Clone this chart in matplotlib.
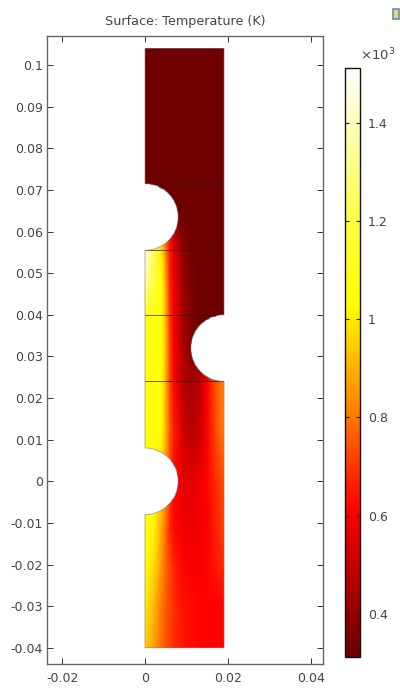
import numpy as np
import matplotlib
matplotlib.use('Agg')
import matplotlib.pyplot as plt
from matplotlib.colors import LinearSegmentedColormap, Normalize
from matplotlib.cm import ScalarMappable
from matplotlib.path import Path
from matplotlib.patches import PathPatch, Rectangle

# temperature, in 10^3 K (rows = y, columns = x)
x_pos = [0, 0.002, 0.004, 0.005, 0.006, 0.007, 0.009, 0.011, 0.013, 0.015, 0.017, 0.0191]
y_pos = [-0.04, -0.03, -0.02, -0.012, 0, 0.012, 0.024, 0.032, 0.04, 0.048, 0.0555, 0.058, 0.0635, 0.104]
temps = [
    [0.95, 0.87, 0.78, 0.74, 0.71, 0.68, 0.65, 0.63, 0.62, 0.61, 0.61, 0.61],
    [1.00, 0.92, 0.80, 0.76, 0.72, 0.69, 0.64, 0.63, 0.62, 0.61, 0.61, 0.61],
    [1.03, 0.98, 0.85, 0.78, 0.72, 0.67, 0.62, 0.60, 0.60, 0.62, 0.65, 0.68],
    [1.05, 1.02, 0.88, 0.78, 0.68, 0.63, 0.59, 0.58, 0.59, 0.61, 0.66, 0.71],
    [1.05, 1.05, 0.95, 0.85, 0.70, 0.62, 0.57, 0.56, 0.58, 0.62, 0.68, 0.74],
    [1.05, 1.05, 1.03, 0.90, 0.76, 0.66, 0.54, 0.47, 0.50, 0.60, 0.72, 0.82],
    [1.05, 1.06, 1.05, 0.90, 0.72, 0.62, 0.49, 0.43, 0.47, 0.60, 0.74, 0.84],
    [1.07, 1.07, 1.05, 0.92, 0.72, 0.60, 0.46, 0.38, 0.34, 0.34, 0.36, 0.40],
    [1.10, 1.08, 1.05, 0.90, 0.70, 0.60, 0.45, 0.36, 0.33, 0.33, 0.33, 0.33],
    [1.35, 1.20, 1.05, 0.88, 0.67, 0.58, 0.43, 0.35, 0.33, 0.33, 0.33, 0.33],
    [1.50, 1.25, 1.00, 0.82, 0.64, 0.55, 0.40, 0.34, 0.33, 0.33, 0.33, 0.33],
    [0.90, 0.90, 0.85, 0.78, 0.64, 0.52, 0.38, 0.33, 0.33, 0.33, 0.33, 0.33],
    [0.33, 0.33, 0.33, 0.33, 0.33, 0.33, 0.33, 0.33, 0.33, 0.33, 0.33, 0.33],
    [0.33, 0.33, 0.33, 0.33, 0.33, 0.33, 0.33, 0.33, 0.33, 0.33, 0.33, 0.33],
]
mesh_lines = [0.024, 0.04, 0.0555, 0.0715]
x_ticks = [-0.02, 0, 0.02, 0.04]
x_labels = ['-0.02', '0', '0.02', '0.04']
y_ticks = [-0.04, -0.03, -0.02, -0.01, 0, 0.01, 0.02, 0.03, 0.04, 0.05, 0.06, 0.07, 0.08, 0.09, 0.1]
y_labels = ['-0.04', '-0.03', '-0.02', '-0.01', '0', '0.01', '0.02', '0.03', '0.04',
            '0.05', '0.06', '0.07', '0.08', '0.09', '0.1']
cbar_ticks = [0.4, 0.6, 0.8, 1.0, 1.2, 1.4]
cbar_labels = ['0.4', '0.6', '0.8', '1', '1.2', '1.4']
t_min, t_max = 0.312, 1.512
# outline of the part: width, height, notch radius and notch centres
width, y_low, y_high = 0.0191, -0.04, 0.104
radius = 0.008
left_holes = [0, 0.0635]
right_hole = 0.032

text_col = '#444444'
plt.rcParams['font.family'] = 'DejaVu Sans'
plt.rcParams['font.size'] = 9

cmap = LinearSegmentedColormap.from_list('thermal', [
    (0.0, '#680000'), (0.25, '#ff0000'), (0.42, '#ff8000'),
    (0.60, '#ffff00'), (0.74, '#ffff40'), (1.0, '#ffffff')])
norm = Normalize(t_min, t_max)


def arc(cx, cy, start, end):
    a = np.radians(np.linspace(start, end, 40))
    return np.column_stack([cx + radius * np.cos(a), cy + radius * np.sin(a)])


def outline():
    pts = [[0, y_low], [width, y_low], [width, right_hole - radius]]
    pts += arc(width, right_hole, -90, -270).tolist()
    pts += [[width, y_high], [0, y_high]]
    for c in reversed(left_holes):
        pts += arc(0, c, 90, -90).tolist()
    pts.append([0, y_low])
    return Path(pts)


fig = plt.figure(figsize=(4, 6.88), dpi=100)
ax = fig.add_axes([47 / 400, 1 - 664 / 688, 276 / 400, 628 / 688])
mesh = ax.pcolormesh(x_pos, y_pos, temps, shading='gouraud', cmap=cmap, norm=norm, zorder=1)
shape = PathPatch(outline(), facecolor='none', edgecolor='#808080', lw=0.6, alpha=0.7, zorder=3)
ax.add_patch(shape)
mesh.set_clip_path(shape)

for y in mesh_lines:
    line = ax.plot([0, width], [y, y], color='#3a1010', lw=0.7, alpha=0.7, zorder=2)[0]
    line.set_clip_path(shape)

ax.set_xlim(-0.02367, 0.043)
ax.set_ylim(-0.0439, 0.107)
ax.set_xticks(x_ticks, x_labels)
ax.set_yticks(y_ticks, y_labels)
ax.tick_params(direction='in', top=True, right=True, length=4.5, width=0.7,
               color='#333333', labelcolor=text_col, labelsize=9)
ax.tick_params(axis='y', pad=3)
ax.tick_params(axis='x', pad=6)
for s in ax.spines.values():
    s.set_color('#666666')
    s.set_linewidth(1.0)
fig.text(185 / 400, 1 - 21 / 688, 'Surface: Temperature (K)', ha='center', va='center',
         fontsize=9.2, color=text_col)

cax = fig.add_axes([344.5 / 400, 1 - 657 / 688, 15 / 400, 589 / 688])
cb = fig.colorbar(ScalarMappable(norm=norm, cmap=cmap), cax=cax)
cb.set_ticks(cbar_ticks, labels=cbar_labels)
cax.tick_params(direction='in', left=True, right=True, length=3, width=0.8,
                color='#222222', labelcolor=text_col, labelsize=9, pad=6)
cb.outline.set_edgecolor('#111111')
cb.outline.set_linewidth(1.0)
fig.text(360 / 400, 1 - 55 / 688, r'$\times 10^3$', ha='left', va='center',
         fontsize=9.5, color=text_col, math_fontfamily='dejavusans')

# little toolbar icon at the top right
fig.add_artist(Rectangle((393 / 400, 1 - 19 / 688), 6 / 400, 10 / 688, transform=fig.transFigure,
                         facecolor='#e8d96a', edgecolor='#5b8fc7', lw=1.2))

fig.savefig('out.png', dpi=100)
